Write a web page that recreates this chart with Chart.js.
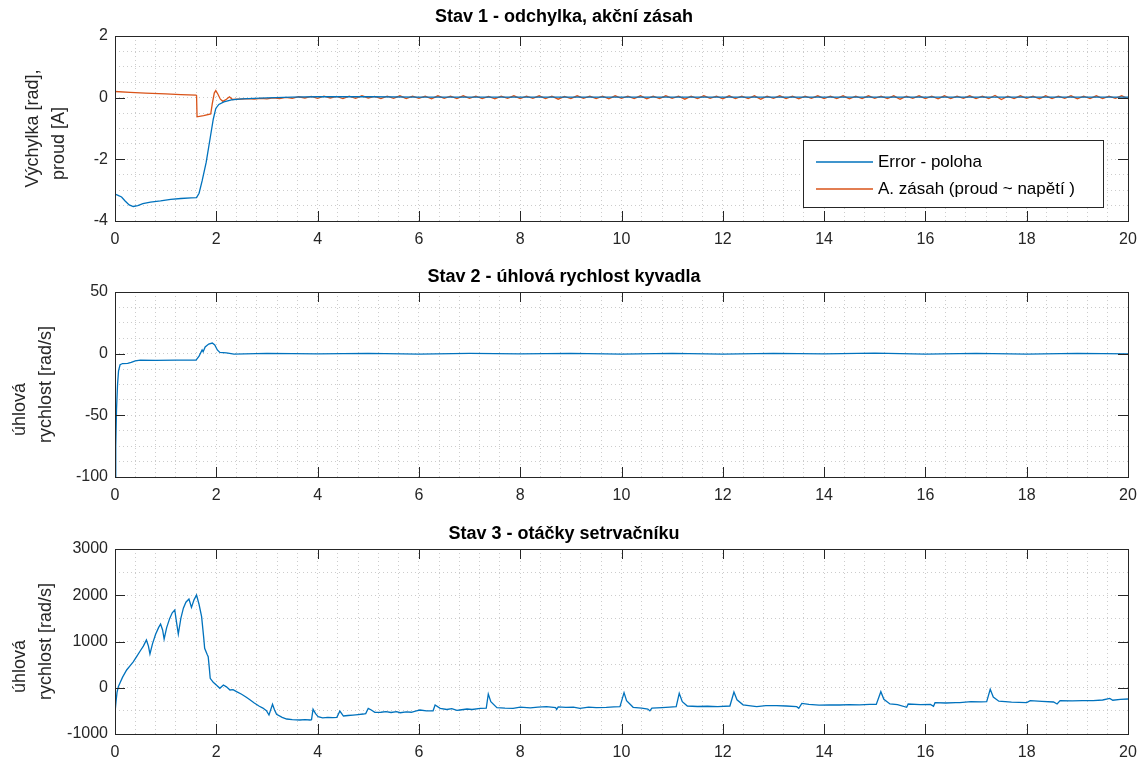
<!DOCTYPE html>
<html lang="cs">
<head>
<meta charset="UTF-8">
<title>Stavy kyvadla</title>
<script src="https://cdn.jsdelivr.net/npm/chart.js"></script>
<style>
    body { margin: 0; background: #fff; width: 1141px; height: 760px; overflow: hidden; position: relative; }
    canvas { position: absolute; left: 0; }
</style>
</head>
<body>
<canvas id="c1" width="1141" height="247" style="top:0px"></canvas>
<canvas id="c2" width="1141" height="247" style="top:256px"></canvas>
<canvas id="c3" width="1141" height="247" style="top:513px"></canvas>

<script>
// ---- data ----
// Stav 1: error (poloha)
const errT = [0, 0.05, 0.13, 0.2, 0.28, 0.36, 0.45, 0.55, 0.7, 0.9, 1.1, 1.3, 1.5, 1.61, 1.66, 1.72, 1.8, 1.88, 1.94, 1.99, 2.05, 2.15, 2.3, 2.5, 3, 3.5, 4, 5, 6, 7, 8, 9, 10, 11, 12, 13, 14, 15, 16, 17, 18, 19, 20];
const errV = [-3.13, -3.16, -3.22, -3.35, -3.48, -3.53, -3.5, -3.44, -3.39, -3.35, -3.3, -3.27, -3.25, -3.24, -3.1, -2.7, -2.1, -1.3, -0.7, -0.35, -0.22, -0.14, -0.07, -0.04, -0.01, 0.02, 0.03, 0.03, 0.02, 0.02, 0.02, 0.02, 0.02, 0.02, 0.02, 0.02, 0.02, 0.02, 0.02, 0.02, 0.02, 0.02, 0.02];

// Stav 1: akcni zasah, first 2.5 s
const actT = [0, 0.3, 0.6, 1.0, 1.3, 1.6, 1.61, 1.62, 1.75, 1.89, 1.92, 1.96, 1.99, 2.03, 2.08, 2.13, 2.2, 2.26, 2.32, 2.4];
const actV = [0.2, 0.17, 0.15, 0.12, 0.1, 0.08, 0.07, -0.62, -0.58, -0.53, -0.2, 0.15, 0.23, 0.12, -0.05, -0.12, -0.05, 0.03, -0.06, -0.05];
// akcni zasah from 2.5 s, sampled every 0.125 s
const actTailStart = 2.5;
const actTailStep = 0.125;
const actTail = [
    -0.05, -0.03, -0.05, -0.02, -0.04, -0.01, -0.03, 0.01,
    -0.02, 0.03, -0.01, 0.04, -0.02, 0.05, -0.01, 0.04,
    -0.03, 0.05, -0.02, 0.06, -0.01, 0.04, -0.03, 0.05,
    -0.02, 0.06, -0.03, 0.05, -0.02, 0.05, -0.04, 0.06,
    -0.02, 0.05, -0.03, 0.06, -0.02, 0.05, -0.03, 0.04,
    -0.04, 0.05, -0.02, 0.06, -0.03, 0.05, -0.02, 0.06,
    -0.03, 0.05, -0.05, 0.04, -0.03, 0.06, -0.02, 0.05,
    -0.03, 0.05, -0.04, 0.06, -0.02, 0.05, -0.03, 0.06,
    -0.04, 0.05, -0.03, 0.06, -0.02, 0.05, -0.05, 0.05,
    -0.03, 0.06, -0.02, 0.05, -0.04, 0.06, -0.03, 0.05,
    -0.03, 0.06, -0.05, 0.05, -0.02, 0.06, -0.03, 0.05,
    -0.04, 0.05, -0.02, 0.06, -0.03, 0.05, -0.03, 0.06,
    -0.04, 0.05, -0.03, 0.06, -0.02, 0.05, -0.03, 0.06,
    -0.05, 0.05, -0.02, 0.06, -0.03, 0.05, -0.04, 0.06,
    -0.03, 0.05, -0.02, 0.06, -0.03, 0.05, -0.03, 0.07,
    -0.06, 0.05, -0.03, 0.06, -0.02, 0.05, -0.04, 0.06,
    -0.03, 0.05, -0.02, 0.06, -0.04, 0.05, -0.03, 0.06,
    -0.03, 0.05, -0.02, 0.06, -0.03
];

// Stav 2: uhlova rychlost kyvadla
const s2T = [0, 0.015, 0.03, 0.05, 0.07, 0.1, 0.15, 0.25, 0.32, 0.4, 0.5, 0.8, 1.2, 1.6, 1.66, 1.72, 1.74, 1.78, 1.85, 1.92, 1.97, 2.02, 2.07, 2.2, 2.35, 3, 4, 5, 6, 7, 8, 9, 10, 11, 12, 13, 14, 15, 16, 17, 18, 19, 20];
const s2V = [-100, -75, -45, -25, -14, -9, -8, -7.8, -7, -5.8, -5.2, -5.4, -5.3, -5.2, -2, 3, 1.5, 5.5, 7.8, 8.6, 7, 3, 1, 0.7, -0.3, 0.2, -0.2, 0.3, -0.3, 0.2, -0.2, 0.3, -0.3, 0.2, -0.4, 0.3, -0.2, 0.4, -0.3, 0.2, -0.3, 0.3, -0.1];

// Stav 3: otacky setrvacniku, [t, value]
const s3 = [
    [0, -540], [0.02, -300], [0.04, -100], [0.066, 20], [0.1, 110], [0.15, 230], [0.23, 384], [0.3, 480],
    [0.36, 560], [0.43, 680], [0.5, 800], [0.56, 900], [0.62, 1032], [0.66, 900], [0.69, 730], [0.74, 950],
    [0.8, 1150], [0.86, 1300], [0.9, 1378], [0.94, 1250], [0.97, 1054], [1.02, 1300], [1.08, 1500], [1.13, 1620],
    [1.18, 1681], [1.21, 1450], [1.25, 1162], [1.3, 1500], [1.35, 1720], [1.4, 1850], [1.46, 1918], [1.51, 1738],
    [1.56, 1900], [1.61, 2005], [1.66, 1800], [1.71, 1537], [1.75, 1100], [1.77, 852], [1.82, 720], [1.84, 672],
    [1.86, 450], [1.88, 204], [1.94, 117], [2.0, 60], [2.07, -12], [2.14, 60], [2.2, 20], [2.27, -49],
    [2.33, -40], [2.4, -85], [2.5, -140], [2.6, -210], [2.67, -265], [2.75, -330], [2.85, -400], [2.92, -440],
    [2.99, -497], [3.04, -589], [3.11, -359], [3.15, -480], [3.19, -575], [3.3, -640], [3.39, -676], [3.5, -690],
    [3.65, -697], [3.75, -690], [3.85, -697], [3.88, -690], [3.91, -466], [3.96, -560], [4.01, -625], [4.1, -650],
    [4.2, -640], [4.3, -645], [4.38, -640], [4.44, -503], [4.51, -611], [4.6, -600], [4.7, -590], [4.8, -580],
    [4.9, -568], [4.95, -560], [5.0, -445], [5.06, -480], [5.13, -531], [5.25, -530], [5.35, -515], [5.45, -535],
    [5.56, -517], [5.63, -540], [5.75, -520], [5.85, -530], [5.95, -500], [6.02, -481], [6.15, -500], [6.28, -497],
    [6.32, -373], [6.42, -445], [6.55, -470], [6.65, -450], [6.75, -490], [6.81, -481], [6.95, -460], [7.05, -470],
    [7.21, -445], [7.33, -440], [7.37, -135], [7.42, -300], [7.54, -430], [7.7, -440], [7.86, -445], [8.0, -420],
    [8.2, -435], [8.35, -420], [8.52, -409], [8.7, -430], [8.72, -470], [8.75, -415], [8.9, -425], [9.05, -420],
    [9.18, -445], [9.35, -420], [9.5, -430], [9.7, -425], [9.85, -415], [9.97, -409], [10.05, -106], [10.1, -280],
    [10.23, -423], [10.4, -440], [10.52, -460], [10.56, -500], [10.6, -440], [10.8, -430], [10.95, -420], [11.08, -409],
    [11.14, -120], [11.2, -300], [11.3, -395], [11.5, -405], [11.7, -400], [11.9, -410], [12.14, -395], [12.22, -92],
    [12.28, -260], [12.4, -370], [12.55, -390], [12.67, -409], [12.85, -385], [13.06, -387], [13.25, -395], [13.46, -409],
    [13.5, -445], [13.56, -337], [13.7, -360], [13.9, -375], [14.1, -370], [14.31, -373], [14.5, -365], [14.7, -370],
    [14.9, -360], [15.03, -359], [15.12, -85], [15.18, -250], [15.3, -350], [15.45, -365], [15.63, -423], [15.66, -351],
    [15.9, -365], [16.1, -360], [16.16, -400], [16.19, -322], [16.4, -330], [16.6, -320], [16.68, -322], [16.9, -300],
    [17.1, -305], [17.21, -301], [17.28, -35], [17.34, -200], [17.45, -290], [17.7, -310], [18.0, -322], [18.07, -279],
    [18.3, -295], [18.53, -308], [18.6, -351], [18.66, -279], [18.9, -285], [19.1, -280], [19.31, -279], [19.5, -265],
    [19.64, -229], [19.7, -270], [19.85, -250], [20, -243]
];

const xTicksMajor = 2;

const BLUE = '#0072BD';
const ORANGE = '#D95319';
const AXIS = '#262626';
const GRID = '#cccccc';

Chart.defaults.font.family = '"Liberation Sans", Arial, Helvetica, sans-serif';
Chart.defaults.color = AXIS;

function pairs(ts, vs) {
    return ts.map((t, i) => ({x: t, y: vs[i]}));
}

function isMajor(v, step) {
    return Math.abs(v / step - Math.round(v / step)) < 1e-6;
}

// box around the axes + inward tick marks on all four sides (major ticks only)
const matlabBox = {
    id: 'matlabBox',
    afterDatasetsDraw(chart) {
        const {ctx, chartArea: a, scales: {x, y}} = chart;
        const len = 10;
        ctx.save();
        ctx.strokeStyle = AXIS;
        ctx.lineWidth = 1;
        ctx.beginPath();
        x.ticks.forEach(t => {
            if (t.label === '') return;
            const px = Math.round(x.getPixelForValue(t.value)) + 0.5;
            ctx.moveTo(px, a.bottom); ctx.lineTo(px, a.bottom - len);
            ctx.moveTo(px, a.top); ctx.lineTo(px, a.top + len);
        });
        y.ticks.forEach(t => {
            if (t.label === '') return;
            const py = Math.round(y.getPixelForValue(t.value)) + 0.5;
            ctx.moveTo(a.left, py); ctx.lineTo(a.left + len, py);
            ctx.moveTo(a.right, py); ctx.lineTo(a.right - len, py);
        });
        ctx.stroke();
        ctx.strokeRect(Math.round(a.left) + 0.5, Math.round(a.top) + 0.5,
                       Math.round(a.right - a.left), Math.round(a.bottom - a.top));
        ctx.restore();
    }
};

// legend drawn inside the first axes, lower right
const boxLegend = {
    id: 'boxLegend',
    afterDraw(chart, args, opts) {
        if (!opts.show) return;
        const {ctx, chartArea: a} = chart;
        const w = 300, h = 67;
        const left = a.right - 325, top = a.top + 104;
        ctx.save();
        ctx.fillStyle = '#fff';
        ctx.fillRect(left, top, w, h);
        ctx.strokeStyle = AXIS;
        ctx.lineWidth = 1;
        ctx.strokeRect(left + 0.5, top + 0.5, w, h);
        ctx.font = '17px "Liberation Sans", Arial, sans-serif';
        ctx.textBaseline = 'middle';
        chart.data.datasets.forEach((ds, i) => {
            const yy = top + 22 + i * 27;
            ctx.strokeStyle = ds.borderColor;
            ctx.lineWidth = 1.3;
            ctx.beginPath();
            ctx.moveTo(left + 13, yy);
            ctx.lineTo(left + 70, yy);
            ctx.stroke();
            ctx.fillStyle = '#000';
            ctx.fillText(ds.label, left + 75, yy);
        });
        ctx.restore();
    }
};

function makeChart(id, opt) {
    return new Chart(document.getElementById(id), {
        type: 'line',
        data: {datasets: opt.datasets},
        options: {
            responsive: false,
            animation: false,
            events: [],
            layout: {padding: {left: 0, right: 13, top: 0, bottom: 0}},
            elements: {
                point: {radius: 0},
                line: {borderWidth: 1.3, tension: 0}
            },
            plugins: {
                legend: {display: false},
                tooltip: {enabled: false},
                title: {
                    display: true,
                    text: opt.title,
                    color: '#000',
                    font: {size: 18, weight: 'bold'},
                    padding: opt.titlePad
                },
                boxLegend: {show: !!opt.legend}
            },
            scales: {
                x: {
                    type: 'linear',
                    min: 0,
                    max: 20,
                    afterFit: s => { s.height = 26; s.paddingLeft = 0; s.paddingRight = 0; },
                    grid: {color: GRID, lineWidth: 1, drawTicks: false},
                    border: {display: false, dash: [1, 3]},
                    ticks: {
                        stepSize: 0.4,
                        autoSkip: false,
                        maxRotation: 0,
                        padding: 9,
                        color: AXIS,
                        font: {size: 16},
                        callback: v => isMajor(v, xTicksMajor) ? String(Math.round(v)) : ''
                    }
                },
                y: {
                    min: opt.yMin,
                    max: opt.yMax,
                    afterFit: s => { s.width = 115; },
                    grid: {color: GRID, lineWidth: 1, drawTicks: false},
                    border: {display: false, dash: [1, 3]},
                    ticks: {
                        stepSize: opt.yMinor,
                        autoSkip: false,
                        padding: 7,
                        color: AXIS,
                        font: {size: 16},
                        callback: v => isMajor(v, opt.yMajor) ? String(Math.round(v)) : ''
                    },
                    title: {
                        display: true,
                        text: opt.yLabel,
                        color: AXIS,
                        font: {size: 18, lineHeight: 1.45},
                        padding: {top: opt.yLabelPad, bottom: 0}
                    }
                }
            }
        },
        plugins: [matlabBox, boxLegend]
    });
}

makeChart('c1', {
    title: 'Stav 1 - odchylka, akční zásah',
    titlePad: {top: 6, bottom: 8.4},
    yMin: -4, yMax: 2, yMinor: 0.5, yMajor: 2,
    yLabel: ['Výchylka [rad],', 'proud [A]      '],
    yLabelPad: 20,
    legend: true,
    datasets: [
        {label: 'Error - poloha', data: pairs(errT, errV), borderColor: BLUE},
        {label: 'A. zásah (proud ~ napětí )',
         data: pairs(actT, actV).concat(actTail.map((v, i) => ({x: actTailStart + i * actTailStep, y: v}))),
         borderColor: ORANGE}
    ]
});

makeChart('c2', {
    title: 'Stav 2 - úhlová rychlost kyvadla',
    titlePad: {top: 10, bottom: 4.4},
    yMin: -100, yMax: 50, yMinor: 12.5, yMajor: 50,
    yLabel: ['úhlová          ', 'rychlost [rad/s]'],
    yLabelPad: 6.5,
    datasets: [
        {label: 'omega', data: pairs(s2T, s2V), borderColor: BLUE}
    ]
});

makeChart('c3', {
    title: 'Stav 3 - otáčky setrvačníku',
    titlePad: {top: 10, bottom: 4.4},
    yMin: -1000, yMax: 3000, yMinor: 500, yMajor: 1000,
    yLabel: ['úhlová          ', 'rychlost [rad/s]'],
    yLabelPad: 6.5,
    datasets: [
        {label: 'otacky', data: s3.map(p => ({x: p[0], y: p[1]})), borderColor: BLUE}
    ]
});
</script>
</body>
</html>
